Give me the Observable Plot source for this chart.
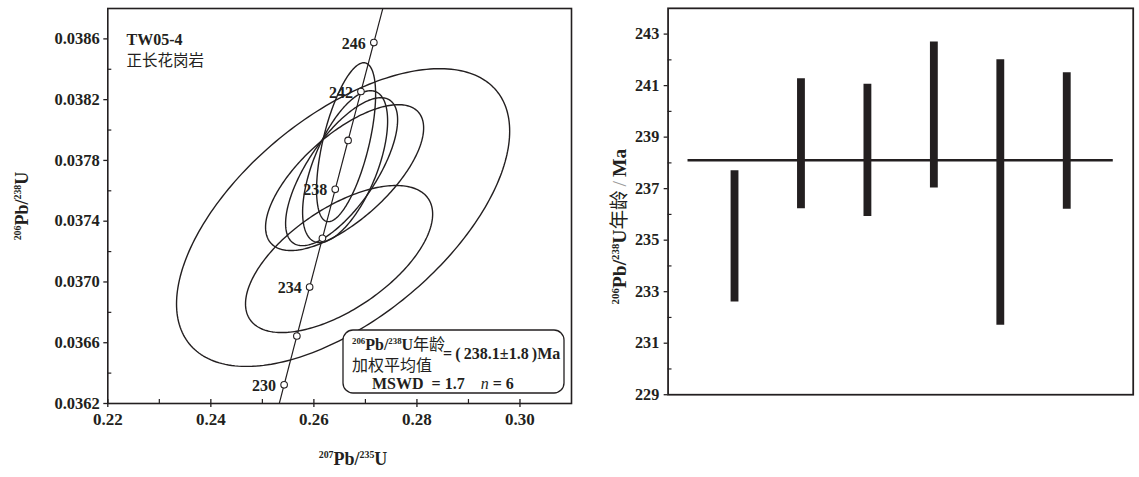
<!DOCTYPE html>
<html><head><meta charset="utf-8">
<script src="https://cdn.jsdelivr.net/npm/d3@7"></script>
<script src="https://cdn.jsdelivr.net/npm/@observablehq/plot@0.6"></script>
<style>
html,body{margin:0;padding:0;background:#fff;overflow:hidden;width:1139px;height:477px}
#wrap{position:relative;width:1139px;height:477px;overflow:hidden}
#left{position:absolute;left:0;top:0}
#right{position:absolute;left:580px;top:0}
#wrap svg{font-family:'Liberation Serif','Times New Roman',serif;font-weight:bold}
</style></head><body><div id="wrap"><div id="left"></div><div id="right"></div></div>
<script>
// ---------- data ----------
// spot analyses (same order in both panels)
const spotIndex = [1, 2, 3, 4, 5, 6];
const ratio207_235 = [0.26489, 0.26538, 0.26596, 0.26625, 0.26567, 0.26606];
const err207_235   = [0.01816, 0.01087, 0.01534, 0.00573, 0.03233, 0.00825];
const ratio206_238 = [0.037151, 0.037726, 0.037687, 0.037920, 0.037424, 0.037759];
const err206_238   = [0.000484, 0.000487, 0.000480, 0.000523, 0.000980, 0.000500];
const rhoErr       = [0.61, 0.70, 0.68, 0.60, 0.58, 0.60];
// 206Pb/238U ages (Ma), error bar limits
const ageLow  = [232.6, 236.22, 235.92, 237.03, 231.7, 236.2];
const ageHigh = [237.7, 241.27, 241.05, 242.69, 242.0, 241.5];
const meanAge = 238.1;
const meanLineFrom = 0.3, meanLineTo = 6.7;
// concordia
const lambda238 = 1.55125e-10, lambda235 = 9.8485e-10;
const markerAges = [230, 232, 234, 236, 238, 240, 242, 244];
const labelAges  = [230, 234, 238, 242, 244];
const labelTexts = ["230", "234", "238", "242", "246"];
// axes
const xMajorL = [0.22, 0.24, 0.26, 0.28, 0.30];
const xMinorL = [0.23, 0.25, 0.27, 0.29];
const yMajorL = [0.0362, 0.0366, 0.0370, 0.0374, 0.0378, 0.0382, 0.0386];
const yMinorL = [0.0364, 0.0368, 0.0372, 0.0376, 0.0380, 0.0384];
const yMajorR = [229, 231, 233, 235, 237, 239, 241, 243];
const yMinorR = [230, 232, 234, 236, 238, 240, 242];

// ---------- derived tables ----------
const ink = "#231f20";
const conc = t => ({x: Math.exp(lambda235 * t * 1e6) - 1, y: Math.exp(lambda238 * t * 1e6) - 1});
const concordia = d3.range(224, 252.01, 0.25).map(conc);
const markers = markerAges.map(conc);
const labels = labelAges.map((a, i) => ({...conc(a), text: labelTexts[i]}));
const ellipses = [];
spotIndex.forEach((id, i) => {
  const r = rhoErr[i], q = Math.sqrt(1 - r * r);
  for (let k = 0; k <= 240; k++) {
    const t = 2 * Math.PI * k / 240;
    ellipses.push({id, x: ratio207_235[i] + err207_235[i] * Math.cos(t),
      y: ratio206_238[i] + err206_238[i] * (r * Math.cos(t) + q * Math.sin(t))});
  }
});
const bars = spotIndex.map((id, i) => ({id, lo: ageLow[i], hi: ageHigh[i]}));

const serif = "Liberation Serif, Times New Roman, serif";
const cjk = "Noto Sans CJK SC, sans-serif";

// ---------- left: concordia ----------
const LH = 477, LW = 580, lmL = 107.3, lmR = 9, lmT = 8, lmB = 74;
const lInnerH = LH - lmT - lmB, lInnerW = LW - lmL - lmR;
const leftPlot = Plot.plot({
  width: LW, height: LH, marginLeft: lmL, marginRight: lmR, marginTop: lmT, marginBottom: lmB,
  x: {domain: [0.22, 0.31]}, y: {domain: [0.0362, 0.0388]},
  style: {fontFamily: serif, fontSize: "16px", fontWeight: "bold", color: ink, background: "white"},
  marks: [
    Plot.line(ellipses, {x: "x", y: "y", z: "id", stroke: ink, strokeWidth: 1.4, curve: "linear-closed"}),
    Plot.line(concordia, {x: "x", y: "y", stroke: ink, strokeWidth: 1.2, clip: true}),
    Plot.dot(markers, {x: "x", y: "y", r: 3.3, fill: "white", stroke: ink, strokeWidth: 1.1}),
    Plot.text(labels, {x: "x", y: "y", text: "text", textAnchor: "end", dx: -8, dy: 1, fontSize: 16, fontFamily: serif, fontWeight: "bold", fill: ink}),
    Plot.frame({stroke: ink, strokeWidth: 1.6}),
    Plot.axisX(xMajorL, {tickSize: 4, tickPadding: 5, tickFormat: d3.format(".2f"), label: null, strokeWidth: 1.3, fontSize: 17, fontFamily: serif, fontWeight: "bold"}),
    Plot.tickX(xMajorL, {x: d => d, insetTop: lInnerH - 4, stroke: ink, strokeWidth: 1.3}),
    Plot.tickX(xMinorL, {x: d => d, insetTop: lInnerH - 4, stroke: ink, strokeWidth: 1.2}),
    Plot.axisY(yMajorL, {tickSize: 4, tickPadding: 4, tickFormat: d3.format(".4f"), label: null, strokeWidth: 1.3, fontSize: 16.5, fontFamily: serif, fontWeight: "bold"}),
    Plot.tickY(yMinorL, {y: d => d, insetRight: lInnerW - 4, stroke: ink, strokeWidth: 1.2}),
    Plot.text(["TW05-4"], {frameAnchor: "top-left", dx: 18.7, dy: 25, textAnchor: "start", fontSize: 16, fontFamily: serif, fontWeight: "bold", fill: ink}),
    Plot.text(["正长花岗岩"], {frameAnchor: "top-left", dx: 18.7, dy: 46.5, textAnchor: "start", fontSize: 15.5, fontWeight: "normal", fontFamily: cjk, fill: ink})
  ]
});
document.getElementById("left").append(leftPlot);

// ---------- right: weighted mean ----------
const RW = 570, rmL = 89.3, rmR = 6.4, rmT = 8, rmB = 75;
const rInnerW = RW - rmL - rmR;
const rightPlot = Plot.plot({
  width: RW, height: LH, marginLeft: rmL, marginRight: rmR, marginTop: rmT, marginBottom: rmB,
  x: {domain: [0, 7], axis: null}, y: {domain: [229, 244]},
  style: {fontFamily: serif, fontSize: "16px", fontWeight: "bold", color: ink, background: "white"},
  marks: [
    Plot.frame({stroke: ink, strokeWidth: 1.8}),
    Plot.axisY(yMajorR, {tickSize: 4, tickPadding: 5, label: null, strokeWidth: 1.3, fontSize: 16.5, fontFamily: serif, fontWeight: "bold"}),
    Plot.tickY(yMinorR, {y: d => d, insetRight: rInnerW - 4, stroke: ink, strokeWidth: 1.2}),
    Plot.ruleY([meanAge], {x1: meanLineFrom, x2: meanLineTo, stroke: ink, strokeWidth: 2.6}),
    Plot.ruleX(bars, {x: "id", y1: "lo", y2: "hi", stroke: ink, strokeWidth: 8})
  ]
});
document.getElementById("right").append(rightPlot);

// ---------- rich text (superscripts) ----------
function rich(svg, {x, y, rotate = 0, size, anchor = "start", parts}) {
  const t = d3.select(svg).append("text")
    .attr("transform", `translate(${x},${y}) rotate(${rotate})`)
    .attr("text-anchor", anchor).attr("fill", ink)
    .style("font-family", serif).style("font-weight", "bold").style("font-size", size + "px");
  let shift = 0;
  parts.forEach(p => {
    const s = t.append("tspan").text(p.t);
    const target = p.sup ? -size * 0.38 : 0;
    if (target !== shift) { s.attr("dy", target - shift); shift = target; }
    if (p.sup) s.style("font-size", (size * 0.55) + "px");
    if (p.cjk) s.style("font-family", cjk).style("font-weight", "normal");
    if (p.light) s.style("font-weight", "normal").attr("fill", "#999");
    if (p.italic) s.style("font-style", "italic").style("font-weight", "normal");
  });
  return t;
}
const lsvg = leftPlot.tagName.toLowerCase() === "svg" ? leftPlot : leftPlot.querySelector("svg");
const rsvg = rightPlot.tagName.toLowerCase() === "svg" ? rightPlot : rightPlot.querySelector("svg");

rich(lsvg, {x: 353, y: 465, size: 18, anchor: "middle",
  parts: [{t: "207", sup: true}, {t: "Pb/"}, {t: "235", sup: true}, {t: "U"}]});
rich(lsvg, {x: 28, y: 206, rotate: -90, size: 18, anchor: "middle",
  parts: [{t: "206", sup: true}, {t: "Pb/"}, {t: "238", sup: true}, {t: "U"}]});
rich(rsvg, {x: 47, y: 231, rotate: -90, size: 20, anchor: "middle",
  parts: [{t: "206", sup: true}, {t: "Pb/"}, {t: "238", sup: true}, {t: "U"}, {t: "年龄", cjk: true}, {t: "\u2009/\u2009", light: true}, {t: "Ma"}]});

// legend box
d3.select(lsvg).append("rect").attr("x", 343).attr("y", 330).attr("width", 221).attr("height", 63)
  .attr("rx", 10).attr("fill", "white").attr("stroke", ink).attr("stroke-width", 1.3);
rich(lsvg, {x: 352, y: 350, size: 16,
  parts: [{t: "206", sup: true}, {t: "Pb/"}, {t: "238", sup: true}, {t: "U"}, {t: "年龄", cjk: true}]});
rich(lsvg, {x: 443, y: 359, size: 16,
  parts: [{t: "=\u2009(\u2009238.1±1.8\u2009)Ma"}]});
rich(lsvg, {x: 352, y: 371, size: 16, parts: [{t: "加权平均值", cjk: true}]});
rich(lsvg, {x: 372, y: 389, size: 16,
  parts: [{t: "MSWD\u00a0\u00a0=\u00a01.7\u00a0\u00a0\u00a0\u00a0"}, {t: "n", italic: true}, {t: "\u00a0=\u00a06"}]});
</script></body></html>
